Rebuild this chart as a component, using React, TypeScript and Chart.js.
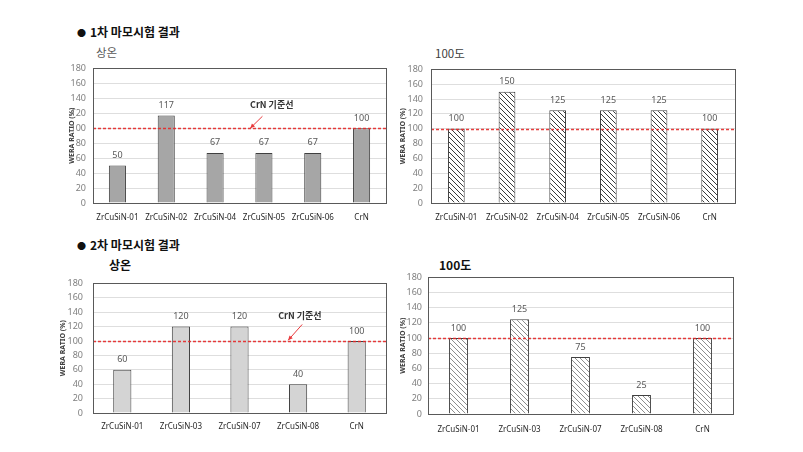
import React, { useEffect, useRef } from 'react';
import { Chart, registerables } from 'chart.js';

Chart.register(...registerables);

// ---------- data ----------
const firstLabels = ['ZrCuSiN-01', 'ZrCuSiN-02', 'ZrCuSiN-04', 'ZrCuSiN-05', 'ZrCuSiN-06', 'CrN'];
const firstRoomValues = [50, 117, 67, 67, 67, 100];
const first100Values = [100, 150, 125, 125, 125, 100];

const secondLabels = ['ZrCuSiN-01', 'ZrCuSiN-03', 'ZrCuSiN-07', 'ZrCuSiN-08', 'CrN'];
const secondRoomValues = [60, 120, 120, 40, 100];
const second100Values = [100, 125, 75, 25, 100];

const yTickMin = 0;
const yTickMax = 180;
const yTickStep = 20;
const referenceValue = 100;
const referenceLabel = 'CrN 기준선';
const yAxisTitle = 'WERA RATIO (%)';

const FONT = '"Noto Sans", "Noto Sans CJK KR", sans-serif';
const KFONT = '"Noto Sans CJK KR", "Noto Sans", sans-serif';

type Box = { left: number; top: number; right: number; bottom: number };
type Annot = { textIdx: number; textVal: number; fromIdx: number; fromVal: number; toIdx: number; toVal: number };

function makeHatch(color: string) {
  const s = 5;
  const c = document.createElement('canvas');
  c.width = s;
  c.height = s;
  const ctx = c.getContext('2d')!;
  ctx.fillStyle = '#ffffff';
  ctx.fillRect(0, 0, s, s);
  ctx.strokeStyle = color;
  ctx.lineWidth = 1;
  ctx.beginPath();
  ctx.moveTo(-1, -1);
  ctx.lineTo(s + 1, s + 1);
  ctx.moveTo(-1, s - 1);
  ctx.lineTo(1, s + 1);
  ctx.moveTo(s - 1, -1);
  ctx.lineTo(s + 1, 1);
  ctx.stroke();
  return ctx.createPattern(c, 'repeat')!;
}

type Props = {
  box: Box;
  area: Box;
  labels: string[];
  values: number[];
  fill: string | 'hatchDark' | 'hatchLight';
  barPct: number;
  yPad: number;
  xPad: number;
  titleX: number;
  annot?: Annot;
};

function BarChart(p: Props) {
  const ref = useRef<HTMLCanvasElement>(null);
  const W = p.box.right - p.box.left;
  const H = p.box.bottom - p.box.top;
  useEffect(() => {
    const canvas = ref.current!;
    let bg: any = p.fill;
    if (p.fill === 'hatchDark') bg = makeHatch('#3a3a3a');
    if (p.fill === 'hatchLight') bg = makeHatch('#8e8e8e');
    const yw = p.area.left - p.box.left;
    const xh = p.box.bottom - p.area.bottom;
    const titleFontSize = 7;
    const titleLH = titleFontSize * 1.2;

    const overlay = {
      id: 'overlay',
      afterDatasetsDraw(chart: any) {
        const ctx = chart.ctx;
        const a = chart.chartArea;
        const ys = chart.scales.y;
        // reference line
        const y = Math.round(ys.getPixelForValue(referenceValue)) + 0.5;
        ctx.save();
        ctx.strokeStyle = 'rgba(230,40,40,0.9)';
        ctx.lineWidth = 1.3;
        ctx.setLineDash([3, 2]);
        ctx.beginPath();
        ctx.moveTo(a.left, y);
        ctx.lineTo(a.right, y);
        ctx.stroke();
        ctx.restore();
        // data labels
        const meta = chart.getDatasetMeta(0);
        ctx.save();
        ctx.fillStyle = '#595959';
        ctx.font = `9px ${FONT}`;
        ctx.textAlign = 'center';
        ctx.textBaseline = 'middle';
        meta.data.forEach((el: any, i: number) => {
          ctx.fillText(String(chart.data.datasets[0].data[i]), el.x, el.y - 10);
        });
        ctx.restore();
        // frame
        ctx.save();
        ctx.strokeStyle = '#595959';
        ctx.lineWidth = 1;
        ctx.strokeRect(Math.round(a.left) + 0.5, Math.round(a.top) + 0.5, Math.round(a.right - a.left), Math.round(a.bottom - a.top));
        ctx.restore();
        // annotation
        if (p.annot) {
          const xs = chart.scales.x;
          const an = p.annot;
          const tx = xs.getPixelForValue(an.textIdx);
          const ty = ys.getPixelForValue(an.textVal);
          ctx.save();
          ctx.fillStyle = '#333333';
          ctx.font = `bold 9px ${KFONT}`;
          ctx.textAlign = 'center';
          ctx.textBaseline = 'middle';
          ctx.fillText(referenceLabel, tx, ty);
          const fx = xs.getPixelForValue(an.fromIdx);
          const fy = ys.getPixelForValue(an.fromVal);
          const ex = xs.getPixelForValue(an.toIdx);
          const ey = ys.getPixelForValue(an.toVal);
          ctx.strokeStyle = '#e8393c';
          ctx.fillStyle = '#e8393c';
          ctx.lineWidth = 1;
          ctx.beginPath();
          ctx.moveTo(fx, fy);
          ctx.lineTo(ex, ey);
          ctx.stroke();
          const ang = Math.atan2(ey - fy, ex - fx);
          const hl = 5;
          ctx.beginPath();
          ctx.moveTo(ex, ey);
          ctx.lineTo(ex - hl * Math.cos(ang - 0.45), ey - hl * Math.sin(ang - 0.45));
          ctx.lineTo(ex - hl * Math.cos(ang + 0.45), ey - hl * Math.sin(ang + 0.45));
          ctx.closePath();
          ctx.fill();
          ctx.restore();
        }
      },
    };

    const chart = new Chart(canvas, {
      type: 'bar',
      data: {
        labels: p.labels,
        datasets: [
          {
            data: p.values,
            backgroundColor: bg,
            borderColor: '#404040',
            borderWidth: 1,
            barPercentage: p.barPct,
            categoryPercentage: 1,
          },
        ],
      },
      options: {
        responsive: false,
        animation: false,
        layout: { padding: { left: 0, bottom: 0, top: p.area.top - p.box.top, right: p.box.right - p.area.right } },
        plugins: { legend: { display: false }, tooltip: { enabled: false }, title: { display: false } },
        scales: {
          x: {
            grid: { display: false, drawTicks: false },
            border: { display: false },
            ticks: {
              color: '#262626',
              font: { size: 8, family: FONT },
              padding: p.xPad,
              autoSkip: false,
              maxRotation: 0,
              minRotation: 0,
            },
            afterFit: (s: any) => {
              s.height = xh;
            },
          },
          y: {
            min: yTickMin,
            max: yTickMax,
            grid: { color: '#dedede', drawTicks: false, lineWidth: 1 },
            border: { display: false },
            ticks: {
              stepSize: yTickStep,
              color: '#7f7f7f',
              font: { size: 9, family: FONT },
              padding: p.yPad,
            },
            title: {
              display: true,
              text: yAxisTitle,
              color: '#404040',
              font: { size: titleFontSize, weight: 'bold', family: FONT },
              padding: { top: p.titleX - p.box.left - titleLH / 2, bottom: 0 },
            },
            afterFit: (s: any) => {
              s.width = yw;
            },
          },
        },
      },
      plugins: [overlay],
    });
    return () => chart.destroy();
  }, []);
  return (
    <canvas
      ref={ref}
      width={W}
      height={H}
      style={{ position: 'absolute', left: p.box.left, top: p.box.top, width: W, height: H }}
    />
  );
}

function Text(props: { x: number; cy: number; size: number; bold?: boolean; color: string; children: React.ReactNode }) {
  const lh = 16;
  return (
    <div
      style={{
        position: 'absolute',
        left: props.x,
        top: props.cy - lh / 2,
        lineHeight: `${lh}px`,
        fontSize: props.size,
        fontWeight: props.bold ? 700 : 400,
        color: props.color,
        fontFamily: KFONT,
        whiteSpace: 'nowrap',
      }}
    >
      {props.children}
    </div>
  );
}

const Bullet = () => <span style={{ fontSize: 9, verticalAlign: 'middle', position: 'relative', top: -1, marginRight: 4 }}>●</span>;

export default function App() {
  return (
    <div style={{ position: 'absolute', left: 0, top: 0, width: 803, height: 452, background: '#ffffff', overflow: 'hidden' }}>
      <Text x={77} cy={32} size={12} bold color="#111111"><Bullet />1차 마모시험 결과</Text>
      <Text x={96} cy={52} size={11.5} color="#595959">상온</Text>
      <Text x={435} cy={53} size={11.5} color="#404040">100도</Text>
      <Text x={77} cy={245} size={12} bold color="#111111"><Bullet />2차 마모시험 결과</Text>
      <Text x={109} cy={265} size={12} bold color="#111111">상온</Text>
      <Text x={439} cy={265} size={12} bold color="#111111">100도</Text>

      <BarChart
        box={{ left: 56, top: 56, right: 396, bottom: 232 }}
        area={{ left: 93, top: 62, right: 386, bottom: 203 }}
        labels={firstLabels}
        values={firstRoomValues}
        fill="#a6a6a6"
        barPct={0.35}
        yPad={7}
        xPad={10}
        titleX={72}
        annot={{ textIdx: 3.16, textVal: 131.5, fromIdx: 2.97, fromVal: 116, toIdx: 2.72, toVal: 100 }}
      />
      <BarChart
        box={{ left: 398, top: 56, right: 745, bottom: 232 }}
        area={{ left: 431, top: 63, right: 735, bottom: 203 }}
        labels={firstLabels}
        values={first100Values}
        fill="hatchDark"
        barPct={0.33}
        yPad={8}
        xPad={10}
        titleX={403}
      />
      <BarChart
        box={{ left: 56, top: 268, right: 396, bottom: 445 }}
        area={{ left: 93, top: 276, right: 386, bottom: 413 }}
        labels={secondLabels}
        values={secondRoomValues}
        fill="#d4d4d4"
        barPct={0.31}
        yPad={10}
        xPad={9}
        titleX={63}
        annot={{ textIdx: 3.03, textVal: 135, fromIdx: 3.07, fromVal: 123, toIdx: 2.83, toVal: 101 }}
      />
      <BarChart
        box={{ left: 398, top: 266, right: 745, bottom: 445 }}
        area={{ left: 428, top: 274, right: 733, bottom: 414 }}
        labels={secondLabels}
        values={second100Values}
        fill="hatchLight"
        barPct={0.31}
        yPad={6}
        xPad={11}
        titleX={403}
      />
    </div>
  );
}
